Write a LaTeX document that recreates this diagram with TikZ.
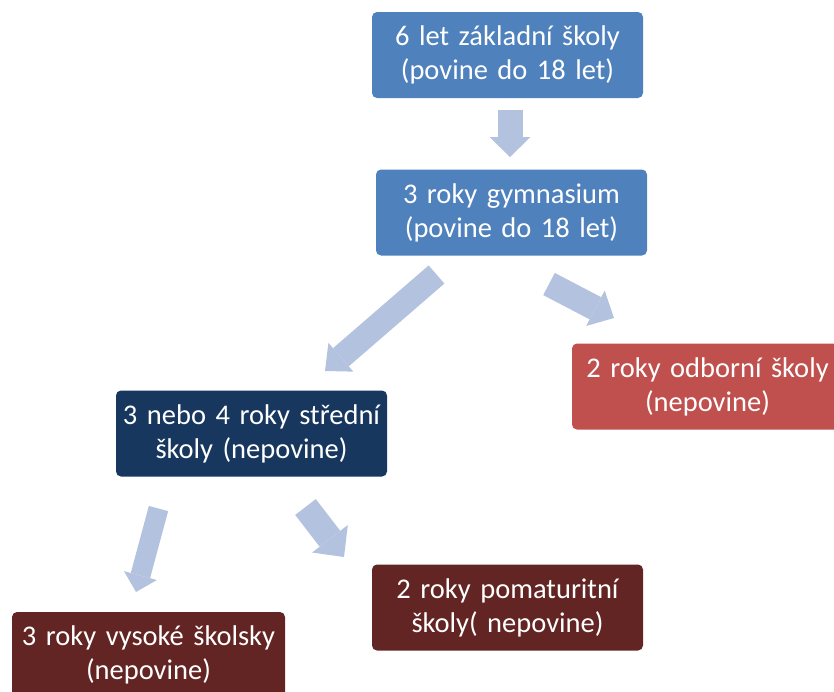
\documentclass[tikz,border=0pt]{standalone}
\usepackage{fontspec}
\setmainfont{Carlito}
\usetikzlibrary{arrows.meta}

\definecolor{boxblue}{RGB}{79,129,189}
\definecolor{boxred}{RGB}{192,80,77}
\definecolor{boxnavy}{RGB}{23,55,94}
\definecolor{boxmaroon}{RGB}{99,37,35}
\definecolor{arrowblue}{RGB}{179,194,222}

\tikzset{
  school/.style={rounded corners=5pt, minimum width=271pt, minimum height=86pt,
    text width=268pt, align=center, inner sep=0pt, text=white,
    font=\fontsize{28.5}{34}\selectfont},
  flow/.style n args={3}{draw=arrowblue, line width=#1,
    -{Triangle[width=#2, length=#3, line width=0pt]}}
}

\begin{document}
\begin{tikzpicture}[x=1pt,y=-1pt]

   % Frame
   \useasboundingbox (0,0) rectangle (834,691);
   \clip (0,0) rectangle (834,691);

   % Schools
   \node[school, fill=boxblue]    (basic) at (507.5,55)  {6 let základní školy\\(povine do 18 let)};
   \node[school, fill=boxblue]    (gym)   at (511.5,212.5) {3 roky gymnasium\\(povine do 18 let)};
   \node[school, fill=boxred]     (odbor) at (707.5,386.5) {2 roky odborní školy\\(nepovine)};
   \node[school, fill=boxnavy]    (stred) at (251.5,433.5) {3 nebo 4 roky střední\\školy (nepovine)};
   \node[school, fill=boxmaroon]  (pomat) at (507.5,607.5) {2 roky pomaturitní\\školy( nepovine)};
   \node[school, fill=boxmaroon, minimum width=273pt] (vysok) at (148.5,655) {3 roky vysoké školsky\\(nepovine)};

   % Arrow ends
   \coordinate (basic-out) at (510,110);   \coordinate (gym-in)   at (510,157);
   \coordinate (gym-outl)  at (436.5,274.5); \coordinate (stred-in) at (325,371);
   \coordinate (gym-outr)  at (549,284);   \coordinate (odbor-in) at (614,318);
   \coordinate (stred-outl) at (158.5,508.5); \coordinate (vysok-in) at (136,592);
   \coordinate (stred-outr) at (305.5,507); \coordinate (pomat-in) at (344,557);

   % Arrows
   \foreach \a/\b/\w/\h/\l in {basic-out/gym-in/25pt/41pt/20pt,
                               gym-outl/stred-in/24pt/38pt/21pt,
                               gym-outr/odbor-in/25pt/40pt/21pt,
                               stred-outl/vysok-in/20pt/34pt/17pt,
                               stred-outr/pomat-in/26pt/45pt/23pt}
       \draw[flow={\w}{\h}{\l}] (\a) -- (\b);

\end{tikzpicture}
\end{document}
